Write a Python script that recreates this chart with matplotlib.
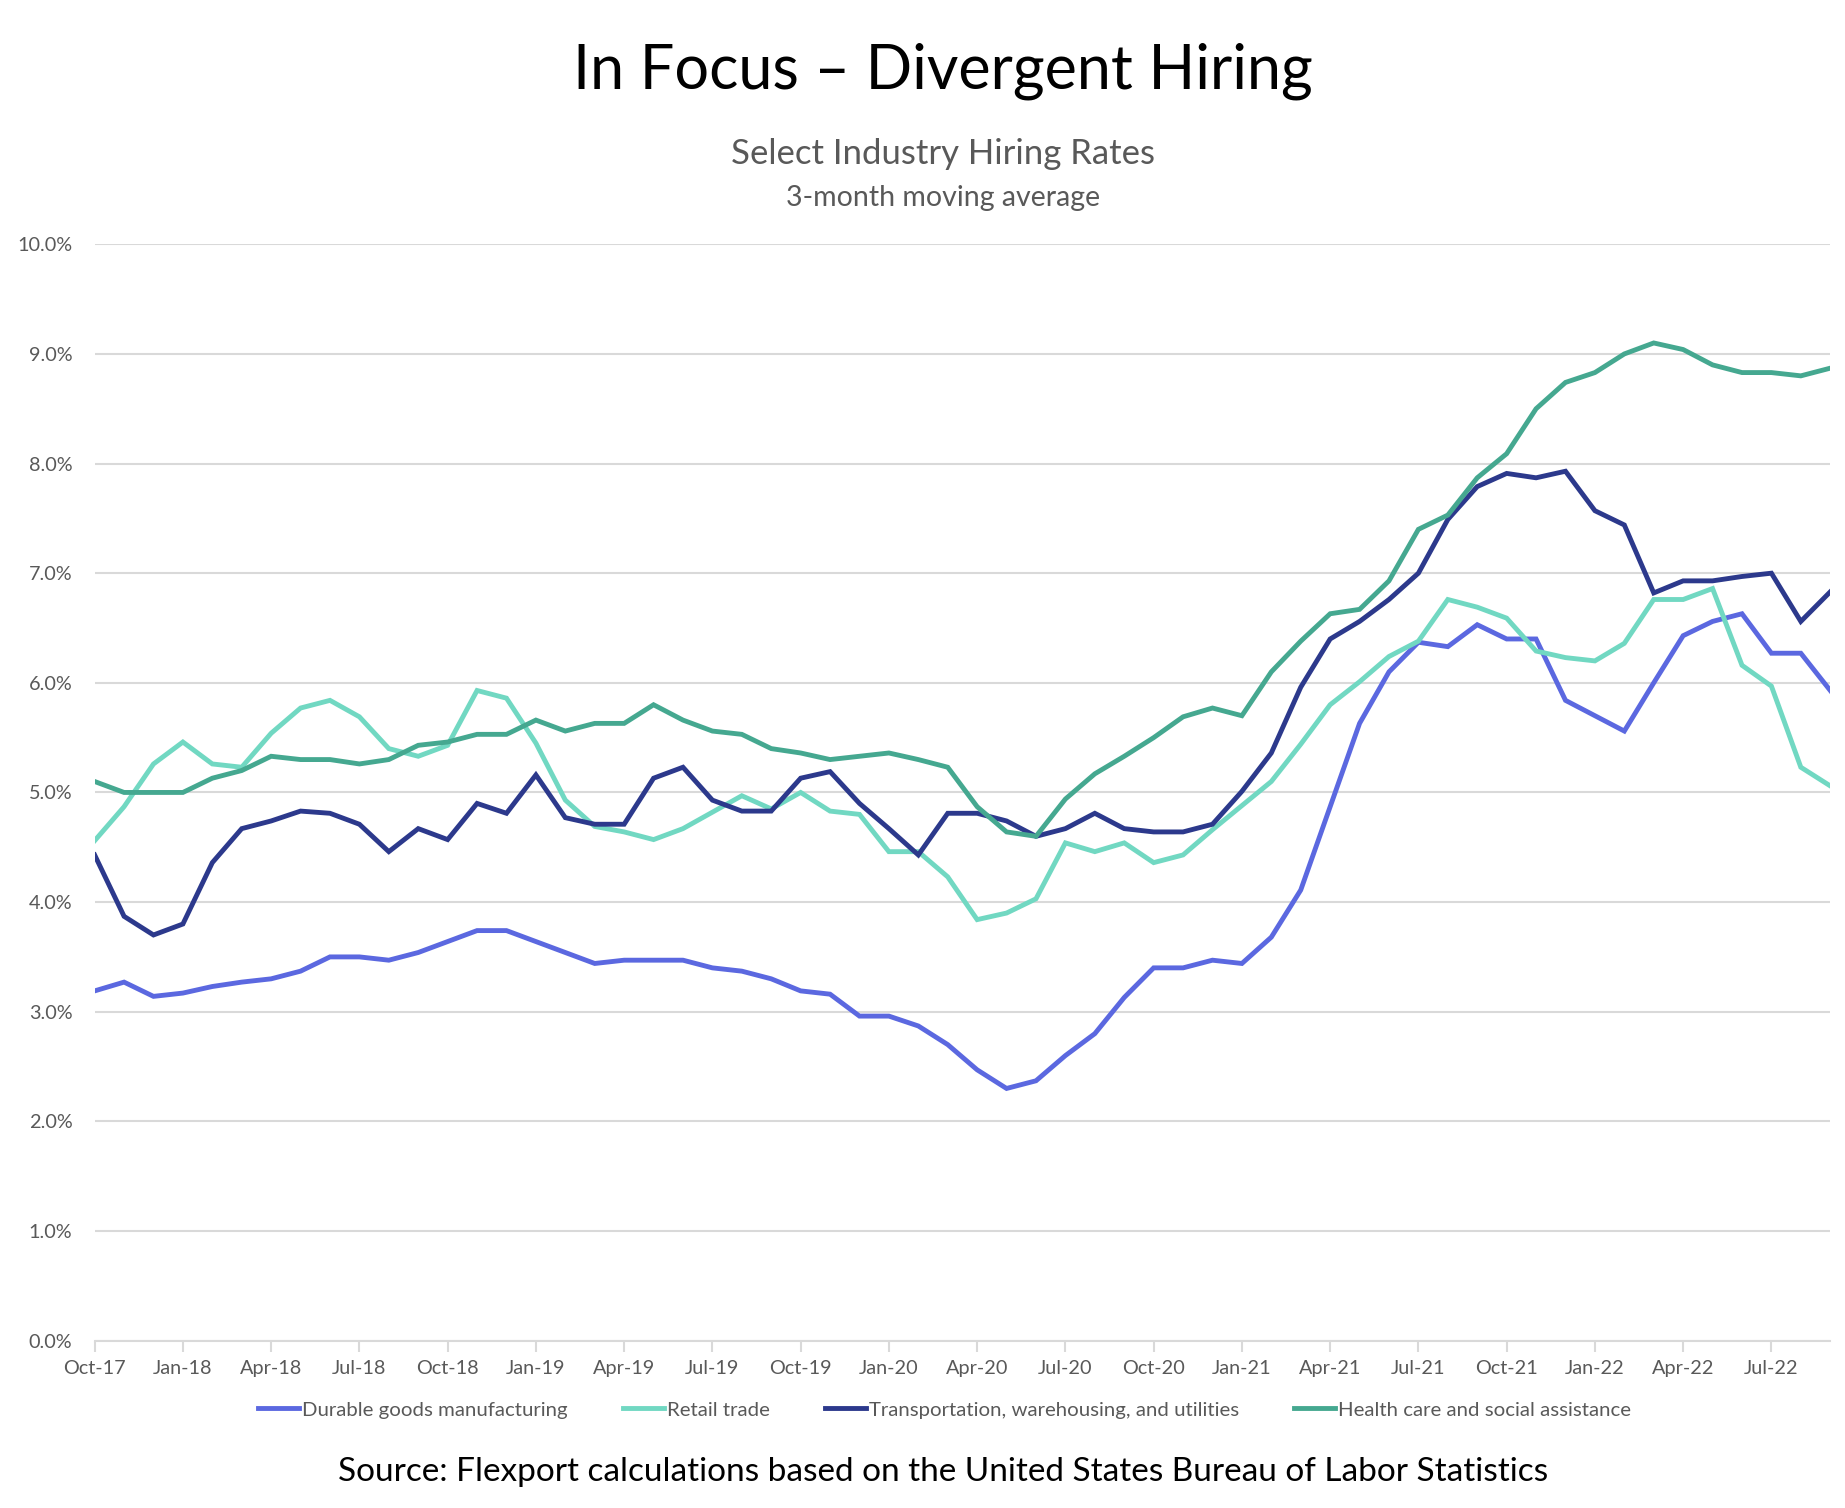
"""Select industry hiring rates (3-month moving average), Oct-17 to Sep-22."""

import matplotlib

matplotlib.use("Agg")
import matplotlib.pyplot as plt

plt.rcParams["font.family"] = ["Lato", "DejaVu Sans"]

# monthly points Oct-17 .. Sep-22 (60 months)
durable = [
    3.19, 3.27, 3.14, 3.17, 3.23, 3.27, 3.30, 3.37, 3.50, 3.50, 3.47, 3.54,
    3.64, 3.74, 3.74, 3.64, 3.54, 3.44, 3.47, 3.47, 3.47, 3.40, 3.37, 3.30,
    3.19, 3.16, 2.96, 2.96, 2.87, 2.70, 2.47, 2.30, 2.37, 2.60, 2.80, 3.13,
    3.40, 3.40, 3.47, 3.44, 3.68, 4.11, 4.87, 5.63, 6.10, 6.37, 6.33, 6.53,
    6.40, 6.40, 5.84, 5.70, 5.56, 6.00, 6.43, 6.56, 6.63, 6.27, 6.27, 5.93,
]
retail = [
    4.56, 4.87, 5.26, 5.46, 5.26, 5.23, 5.54, 5.77, 5.84, 5.69, 5.40, 5.33,
    5.43, 5.93, 5.86, 5.45, 4.93, 4.69, 4.64, 4.57, 4.67, 4.82, 4.97, 4.85,
    5.00, 4.83, 4.80, 4.46, 4.46, 4.23, 3.84, 3.90, 4.03, 4.54, 4.46, 4.54,
    4.36, 4.43, 4.66, 4.88, 5.10, 5.44, 5.80, 6.01, 6.24, 6.38, 6.76, 6.69,
    6.59, 6.29, 6.23, 6.20, 6.36, 6.76, 6.76, 6.86, 6.16, 5.97, 5.23, 5.06,
]
transport = [
    4.43, 3.87, 3.70, 3.80, 4.36, 4.67, 4.74, 4.83, 4.81, 4.71, 4.46, 4.67,
    4.57, 4.90, 4.81, 5.16, 4.77, 4.71, 4.71, 5.13, 5.23, 4.93, 4.83, 4.83,
    5.13, 5.19, 4.90, 4.67, 4.43, 4.81, 4.81, 4.74, 4.60, 4.67, 4.81, 4.67,
    4.64, 4.64, 4.71, 5.01, 5.36, 5.96, 6.40, 6.56, 6.76, 7.00, 7.49, 7.79,
    7.91, 7.87, 7.93, 7.57, 7.44, 6.82, 6.93, 6.93, 6.97, 7.00, 6.56, 6.83,
]
health = [
    5.10, 5.00, 5.00, 5.00, 5.13, 5.20, 5.33, 5.30, 5.30, 5.26, 5.30, 5.43,
    5.46, 5.53, 5.53, 5.66, 5.56, 5.63, 5.63, 5.80, 5.66, 5.56, 5.53, 5.40,
    5.36, 5.30, 5.33, 5.36, 5.30, 5.23, 4.87, 4.64, 4.60, 4.94, 5.17, 5.33,
    5.50, 5.69, 5.77, 5.70, 6.10, 6.38, 6.63, 6.67, 6.93, 7.40, 7.53, 7.87,
    8.09, 8.50, 8.74, 8.83, 9.00, 9.10, 9.04, 8.90, 8.83, 8.83, 8.80, 8.87,
]

tick_labels = [
    "Oct-17", "Jan-18", "Apr-18", "Jul-18", "Oct-18", "Jan-19", "Apr-19",
    "Jul-19", "Oct-19", "Jan-20", "Apr-20", "Jul-20", "Oct-20", "Jan-21",
    "Apr-21", "Jul-21", "Oct-21", "Jan-22", "Apr-22", "Jul-22",
]
y_ticks = [0, 1, 2, 3, 4, 5, 6, 7, 8, 9, 10]

SERIES = [
    ("Durable goods manufacturing", durable, "#5b68e0"),
    ("Retail trade", retail, "#71d8c2"),
    ("Transportation, warehousing, and utilities", transport, "#2c398c"),
    ("Health care and social assistance", health, "#45a890"),
]

GRID = "#d9d9d9"
LABEL = "#595959"

fig = plt.figure(figsize=(18.45, 15.08), dpi=100)
ax = fig.add_axes([0.0513, 0.111, 0.9407, 0.727])

months = list(range(len(durable)))
for name, vals, color in SERIES:
    ax.plot(months, vals, color=color, lw=3.5, label=name,
            solid_joinstyle="miter", zorder=3)

ax.set_xlim(0, len(months) - 1)
ax.set_ylim(0, 10)
ax.set_yticks(y_ticks)
ax.set_yticklabels([f"{v:.1f}%" for v in y_ticks])
ax.set_xticks(range(0, len(months), 3))
ax.set_xticklabels(tick_labels)

ax.grid(axis="y", color=GRID, lw=1.5, zorder=0)
for side in ("top", "right", "left"):
    ax.spines[side].set_visible(False)
ax.spines["bottom"].set_color(GRID)
ax.spines["bottom"].set_linewidth(1.5)
ax.tick_params(axis="y", length=0, pad=16, labelsize=14.3, labelcolor=LABEL)
ax.tick_params(axis="x", length=8, width=1.5, color=GRID, pad=6,
               labelsize=14.3, labelcolor=LABEL)

fig.text(0.511, 0.953, "In Focus – Divergent Hiring", ha="center", va="center",
         fontsize=44, color="black")
fig.text(0.511, 0.898, "Select Industry Hiring Rates", ha="center",
         va="center", fontsize=25, color=LABEL)
fig.text(0.511, 0.869, "3-month moving average", ha="center", va="center",
         fontsize=20.5, color=LABEL)
fig.text(0.511, 0.024, "Source: Flexport calculations based on the United "
         "States Bureau of Labor Statistics", ha="center", va="center",
         fontsize=24, color="black")

fig.legend(loc="center", bbox_to_anchor=(0.512, 0.065), ncol=4, frameon=False,
           fontsize=14.7, labelcolor=LABEL, handlelength=2.0, handletextpad=0.15,
           columnspacing=2.7)

fig.savefig("out.png", dpi=100)
